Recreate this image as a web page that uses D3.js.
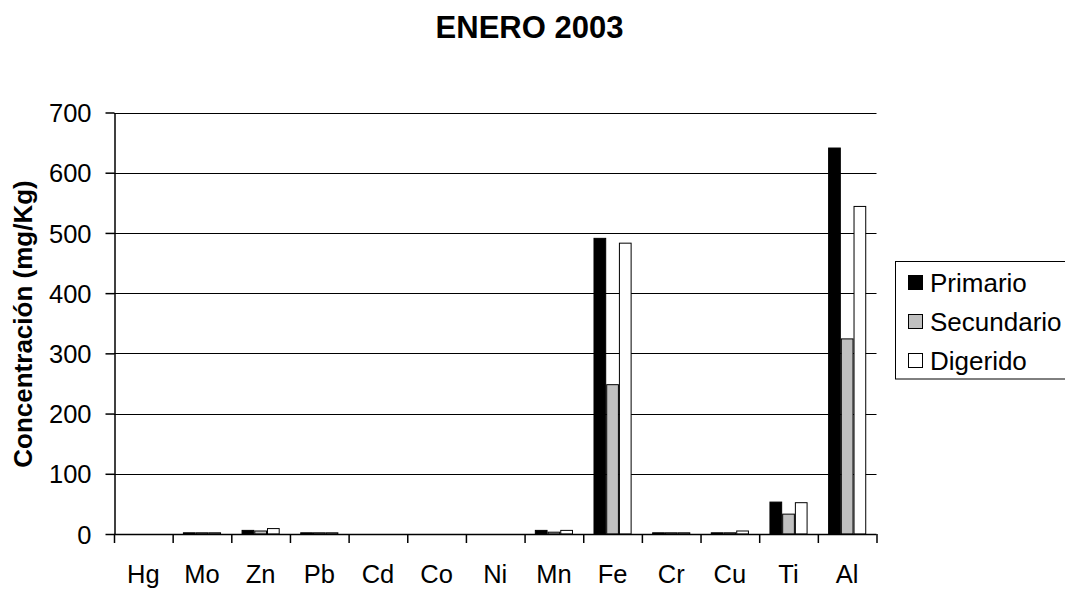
<!DOCTYPE html>
<html><head><meta charset="utf-8">
<script src="https://cdn.jsdelivr.net/npm/d3@7/dist/d3.min.js"></script>
<style>body{margin:0;background:#fff}svg{display:block}text{font-family:"Liberation Sans",Arial,sans-serif}</style>
</head><body><svg id="c" width="1065" height="590"></svg>
<script>
const categories = ["Hg","Mo","Zn","Pb","Cd","Co","Ni","Mn","Fe","Cr","Cu","Ti","Al"];
const seriesNames = ["Primario","Secundario","Digerido"];
const primario   = [0, 2, 6, 2, 0, 0, 0, 6, 491, 2, 2, 53, 641];
const secundario = [0, 2, 5, 2, 0, 0, 0, 3, 248, 2, 2, 33, 324];
const digerido   = [0, 2, 9, 2, 0, 0, 0, 6, 483, 2, 5, 52, 544];
const yTicks = [0,100,200,300,400,500,600,700];
const colors = ["#000000","#c0c0c0","#ffffff"];
const series = [primario, secundario, digerido];

(function(){
const svg = d3.select("#c");
const pLeft = 114, pRight = 876.5, pTop = 112.5, pBottom = 534;
const x0 = d3.scaleBand().domain(categories).range([pLeft, pRight]).paddingInner(0.35).paddingOuter(0.175);
const x1 = d3.scaleBand().domain(seriesNames).range([0, x0.bandwidth()]);
const y = d3.scaleLinear().domain([0,700]).range([pBottom, pTop]);

// gridlines
svg.append("g").selectAll("line").data(yTicks.filter(d=>d>0)).join("line")
  .attr("x1", pLeft).attr("x2", pRight)
  .attr("y1", d=>Math.round(y(d))+0.5).attr("y2", d=>Math.round(y(d))+0.5)
  .attr("stroke","#000").attr("stroke-width",1);

// bars
const g = svg.append("g");
categories.forEach((c,i)=>{
  seriesNames.forEach((s,j)=>{
    const v = series[j][i];
    if (v <= 0) return;
    g.append("rect")
      .attr("x", x0(c)+x1(s)+0.5).attr("y", y(v))
      .attr("width", x1.bandwidth()-1).attr("height", pBottom - y(v))
      .attr("fill", colors[j]).attr("stroke","#000").attr("stroke-width",1);
  });
});

// y axis
const yAxis = d3.axisLeft(y).tickValues(yTicks).tickSize(9).tickSizeOuter(0).tickPadding(14);
const ya = svg.append("g").attr("transform",`translate(${pLeft+0.5},0)`).call(yAxis);
ya.selectAll("text").attr("font-size",25.5).attr("fill","#000").attr("dy","0.36em")
  .attr("font-family","Liberation Sans, Arial, sans-serif");
ya.selectAll("line,path").attr("stroke","#000").attr("stroke-width",1.5);

// x axis
const xEdges = d3.scaleLinear().domain([0,categories.length]).range([pLeft,pRight]);
svg.append("line").attr("x1",pLeft).attr("x2",pRight).attr("y1",pBottom+0.5).attr("y2",pBottom+0.5).attr("stroke","#000").attr("stroke-width",1.5);
svg.append("g").selectAll("line").data(d3.range(categories.length+1)).join("line")
  .attr("x1",d=>xEdges(d)+0.5).attr("x2",d=>xEdges(d)+0.5).attr("y1",pBottom).attr("y2",pBottom+9)
  .attr("stroke","#000").attr("stroke-width",1.5);
svg.append("g").selectAll("text").data(categories).join("text")
  .attr("x", d=>x0(d)+x0.bandwidth()/2).attr("y", 583)
  .attr("text-anchor","middle").attr("font-size",25.5).text(d=>d);

// titles
svg.append("text").attr("x",529.5).attr("y",37.5).attr("text-anchor","middle")
  .attr("font-size",31).attr("font-weight","bold").text("ENERO 2003");
svg.append("text").attr("transform",`translate(32,324) rotate(-90)`)
  .attr("text-anchor","middle").attr("font-size",26).attr("font-weight","bold").text("Concentración (mg/Kg)");

// legend
const lg = svg.append("g");
lg.append("rect").attr("x",895.5).attr("y",261.5).attr("width",180).attr("height",117.5)
  .attr("fill","#fff").attr("stroke","#000").attr("stroke-width",1);
seriesNames.forEach((s,j)=>{
  const base = 292 + j*39;
  lg.append("rect").attr("x",908.5).attr("y",base-16.5).attr("width",14).attr("height",14)
    .attr("fill",colors[j]).attr("stroke","#000").attr("stroke-width",1);
  lg.append("text").attr("x",930).attr("y",base).attr("font-size",26).text(s);
});
})();
</script></body></html>
